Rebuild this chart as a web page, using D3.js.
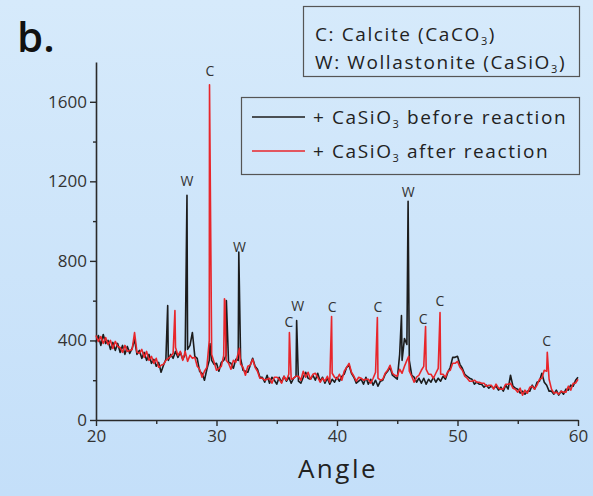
<!DOCTYPE html>
<html><head><meta charset="utf-8">
<script src="https://cdn.jsdelivr.net/npm/d3@7"></script>
<style>html,body{margin:0;padding:0;background:#cce4f9;}svg{display:block;font-family:"Open Sans",sans-serif;}</style>
</head><body><svg id="c" width="593" height="496"></svg>
<script>
// ---- data ----
const gridStart = 20, gridStep = 0.2;
const beforeValues = [
390,425,375,430,385, 400,355,390,350,385, 340,375,330,370,335, 360,405,330,350,310,
340,300,330,285,305, 270,290,240,275,305, 300,330,310,345,315, 340,305,330,355,375,
440,320,310,245,235, 200,255,300,300,280, 285,245,290,300,325, 290,285,260,305,300,
310,250,245,240,275, 310,270,255,215,215, 190,225,185,215,200, 180,215,190,220,195,
215,185,210,220,195, 185,215,240,210,205, 225,200,235,195,215, 185,210,180,205,190,
215,195,220,230,265, 275,235,215,185,195, 205,180,215,180,205, 175,200,170,195,200,
230,245,265,225,215, 205,330,300,410,380, 300,225,215,190,210, 185,210,180,205,190,
215,190,210,195,220, 205,240,265,315,315, 320,280,260,230,220, 210,205,180,190,180,
180,165,175,160,170, 160,170,150,165,145, 175,155,225,170,160, 155,135,145,130,145,
145,175,155,190,195, 235,190,175,145,145, 130,150,125,145,130, 155,150,175,170,200,
215];
const afterValues = [
425,395,420,385,415, 380,400,360,395,370, 365,340,375,345,350, 355,440,340,335,355,
315,345,300,320,285, 310,265,275,280,300, 310,320,335,365,325, 345,300,345,295,325,
310,315,270,255,215, 245,265,400,330,290, 250,260,270,325,300, 285,255,300,290,335,
280,265,225,270,275, 305,265,245,210,210, 200,205,210,185,215, 215,205,185,220,200,
230,205,210,220,220, 200,245,215,240,205, 230,235,215,190,210, 195,220,190,235,215,
205,230,200,245,265, 285,240,220,195,215, 210,200,205,205,185, 210,240,210,200,205,
235,250,275,235,225, 220,255,235,270,300, 245,220,190,215,225, 250,270,255,230,230,
210,235,260,230,230, 215,245,250,285,285, 295,265,250,220,210, 195,195,200,190,190,
185,185,170,175,175, 155,180,160,155,155, 180,180,185,160,155, 140,160,125,150,135,
165,170,155,175,205, 210,250,245,205,155, 135,140,130,145,140, 140,170,150,185,185,
205];
const beforePeakAngles = [25.95, 27.55, 29.45, 30.82, 31.85, 36.65, 45.35, 45.9];
const beforePeakValues = [575, 1130, 385, 600, 845, 500, 525, 1100];
const afterPeakAngles = [26.55, 29.42, 30.66, 30.7, 31.9, 36.05, 39.55, 43.35, 45.95, 47.35, 48.55, 57.45];
const afterPeakValues = [550, 1685, 610, 600, 360, 440, 520, 515, 320, 470, 540, 340];
const annoText = ["W","C","W","C","W","C","C","W","C","C","C"];
const annoAngle = [27.55, 29.45, 31.9, 36.0, 36.75, 39.6, 43.4, 45.9, 47.15, 48.55, 57.4];
const annoValue = [1197, 1750, 865, 488, 565, 563, 563, 1142, 500, 590, 392];
const xTicks = [20,30,40,50,60];
const xMinorTicks = [25,35,45,55];
const yTicks = [0,400,800,1200,1600];
const yMinorTicks = [200,600,1000,1400];
const legendLabels = ["+ CaSiO", "+ CaSiO"];
const legendSuffix = [" before reaction", " after reaction"];

// ---- build series ----
function series(vals, pa, pv){
  const pts = vals.map((v,i)=>[gridStart+i*gridStep, v]);
  pa.forEach((a,i)=>pts.push([a,pv[i]]));
  pts.sort((p,q)=>p[0]-q[0]);
  return pts;
}
const before = series(beforeValues, beforePeakAngles, beforePeakValues);
const after = series(afterValues, afterPeakAngles, afterPeakValues);

const svg = d3.select("#c");
const defs = svg.append("defs");
const g = defs.append("linearGradient").attr("id","bg").attr("x1",0).attr("y1",0).attr("x2",0).attr("y2",1);
g.append("stop").attr("offset","0%").attr("stop-color","#d6eafb");
g.append("stop").attr("offset","100%").attr("stop-color","#c4dff9");
svg.append("rect").attr("width",593).attr("height",496).attr("fill","url(#bg)");

const x = d3.scaleLinear().domain([20,60]).range([96,578]);
const y = d3.scaleLinear().domain([0,1800]).range([420,62]);
const ink = "#2a2a2a";

// axes
svg.append("g").attr("transform","translate(0,420)")
  .call(d3.axisBottom(x).tickValues(xTicks).tickSize(6).tickSizeOuter(0).tickPadding(4).tickFormat(d3.format("d")));
const xm = svg.append("g").attr("transform","translate(0,420)")
  .call(d3.axisBottom(x).tickValues(xMinorTicks).tickSize(4).tickFormat(""));
xm.select(".domain").remove();
svg.append("g").attr("transform","translate(96,0)")
  .call(d3.axisLeft(y).tickValues(yTicks).tickSize(6).tickSizeOuter(0).tickPadding(3).tickFormat(d3.format("d")));
const ym = svg.append("g").attr("transform","translate(96,0)")
  .call(d3.axisLeft(y).tickValues(yMinorTicks).tickSize(3).tickFormat(""));
ym.select(".domain").remove();
svg.selectAll(".domain").attr("stroke",ink).attr("stroke-width",1.6);
svg.selectAll(".tick line").attr("stroke",ink).attr("stroke-width",1.4);
svg.selectAll(".tick text").attr("fill","#333").attr("font-size",17).attr("font-family","Open Sans, sans-serif");

// lines
const line = d3.line().x(d=>x(d[0])).y(d=>y(d[1]));
svg.append("path").datum(before).attr("d",line).attr("fill","none").attr("stroke","#1c1c1c").attr("stroke-width",1.6).attr("stroke-linejoin","round");
svg.append("path").datum(after).attr("d",line).attr("fill","none").attr("stroke","#e8262b").attr("stroke-width",1.6).attr("stroke-linejoin","round");

// annotations
svg.append("g").selectAll("text").data(annoText).join("text")
  .attr("x",(d,i)=>x(annoAngle[i])).attr("y",(d,i)=>y(annoValue[i]))
  .attr("text-anchor","middle").attr("dominant-baseline","middle")
  .attr("font-size",14).attr("fill","#333").text(d=>d);

// axis title
svg.append("text").attr("x",338).attr("y",478).attr("text-anchor","middle")
  .attr("font-size",26).attr("letter-spacing",2.5).attr("fill","#222").text("Angle");
// panel letter
svg.append("text").attr("x",17).attr("y",52).attr("font-size",42).attr("font-weight",600).attr("fill","#111").text("b.");

// legend 1
svg.append("rect").attr("x",303.5).attr("y",6.5).attr("width",276).attr("height",70).attr("fill","none").attr("stroke","#555").attr("stroke-width",1.2);
const t1 = svg.append("text").attr("x",315).attr("y",41).attr("font-size",19).attr("letter-spacing",1.6).attr("fill","#222");
t1.append("tspan").text("C: Calcite (CaCO");
t1.append("tspan").attr("font-size",11).attr("dy",4).text("3");
t1.append("tspan").attr("dy",-4).text(")");
const t2 = svg.append("text").attr("x",315).attr("y",69).attr("font-size",19).attr("letter-spacing",1.6).attr("fill","#222");
t2.append("tspan").text("W: Wollastonite (CaSiO");
t2.append("tspan").attr("font-size",11).attr("dy",4).text("3");
t2.append("tspan").attr("dy",-4).text(")");

// legend 2
svg.append("rect").attr("x",241.5).attr("y",97.5).attr("width",338).attr("height",77).attr("fill","none").attr("stroke","#555").attr("stroke-width",1.2);
const lcol = ["#1c1c1c","#e8262b"];
const ly = [117,151];
lcol.forEach((c,i)=>{
  svg.append("line").attr("x1",252).attr("x2",305).attr("y1",ly[i]).attr("y2",ly[i]).attr("stroke",c).attr("stroke-width",1.3);
  const t = svg.append("text").attr("x",313).attr("y",ly[i]+7).attr("font-size",19).attr("letter-spacing",1.6).attr("fill","#222");
  t.append("tspan").text(legendLabels[i]);
  t.append("tspan").attr("font-size",11).attr("dy",4).text("3");
  t.append("tspan").attr("dy",-4).text(legendSuffix[i]);
});
</script></body></html>
